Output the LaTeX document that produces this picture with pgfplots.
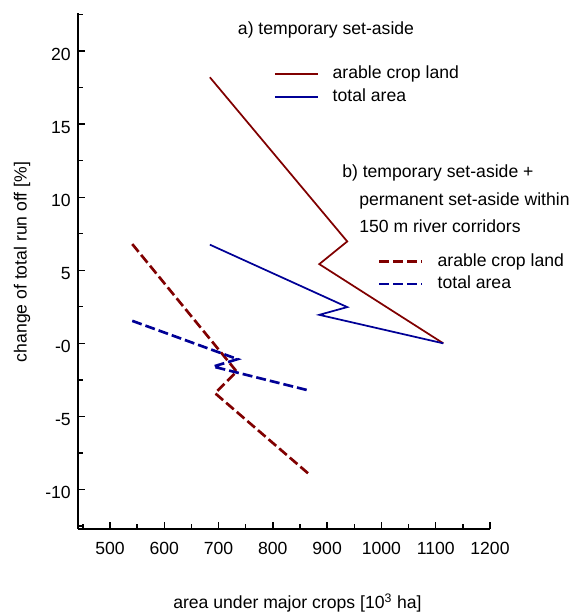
\documentclass[border=0pt]{standalone}
\usepackage{pgfplots}
\pgfplotsset{compat=1.18}
\usepackage{fontspec}
\setmainfont{Liberation Sans}
\newlength\px
\setlength\px{0.75pt}
\definecolor{dred}{RGB}{128,0,0}
\definecolor{dblue}{RGB}{0,0,150}
\pgfplotsset{
  common/.style={
    at={(78.3\px,84\px)}, anchor=south west,
    scale only axis, width=411.7\px, height=516\px,
    xmin=441.6, xmax=1200, ymin=-12.7, ymax=22.6,
    legend image code/.code={\draw[##1] (0pt,0pt) -- (43\px,0pt);},
  },
  leg/.style={
    draw=none, fill=none, inner sep=0pt, outer sep=0pt,
    row sep=5.4\px, column sep=14\px,
    nodes={inner sep=0pt, text height=13\px, text depth=4\px},
  },
}
\begin{document}
\begin{tikzpicture}[font=\fontsize{13.2}{16}\selectfont]
\useasboundingbox (0,0) rectangle (574\px,613\px);
\begin{axis}[common,
  axis x line*=bottom, axis y line*=left,
  axis line style={line width=1.25pt, black},
  tick align=inside,
  major tick length=7\px, minor tick length=4.5\px,
  every tick/.style={black, line width=1pt},
  xtick={500,600,...,1200},
  xticklabels={500,600,700,800,900,1000,1100,1200},
  minor xtick={450,550,...,1150},
  ytick={-10,-5,0,5,10,15,20},
  yticklabels={-10,-5,-0,5,10,15,20},
  minor ytick={-12.5,-7.5,-2.5,2.5,7.5,12.5,17.5,22.5},
  xticklabel style={inner sep=0pt, anchor=north, yshift=-13\px},
  yticklabel style={inner sep=0pt, anchor=east, xshift=-7.3\px, yshift=-3\px},
  legend style={leg, at={(axis description cs:0.4753,0.8977)}, anchor=north west},
  legend cell align=left,
]
\addplot[dred, line width=1.3pt] coordinates {(684,18.2) (937,6.97) (885.5,5.42) (1114,0.0)};
\addlegendentry{arable crop land}
\addplot[dblue, line width=1.3pt] coordinates {(684,6.75) (937,2.48) (885.5,1.95) (1114,0.0)};
\addlegendentry{total area}
\end{axis}
\begin{axis}[common, hide axis,
  legend style={leg, at={(axis description cs:0.728,0.5345)}, anchor=north west},
  legend cell align=left,
]
\addplot[dred, line width=2pt, dash pattern=on 7.5pt off 3pt] coordinates {(541,6.79) (733.3,-1.93) (693.5,-3.41) (867,-8.96)};
\addlegendentry{arable crop land}
\addplot[dblue, line width=2pt, dash pattern=on 7.5pt off 3pt] coordinates {(541,1.54) (735,-1.08) (690,-1.59) (867,-3.23)};
\addlegendentry{total area}
\end{axis}
\node[anchor=base] at (326\px,578\px) {a) temporary set-aside};
\node[anchor=base west, inner sep=0pt] at (342\px,435\px) {b) temporary set-aside +};
\node[anchor=base west, inner sep=0pt] at (359\px,407.3\px) {permanent set-aside within};
\node[anchor=base west, inner sep=0pt] at (359\px,380.7\px) {150 m river corridors};
\node[rotate=90, anchor=center] at (22\px,351\px) {change of total run off [\%]};
\node[anchor=base] at (297.4\px,4.7\px) {area under major crops [10\textsuperscript{3} ha]};
\end{tikzpicture}
\end{document}
